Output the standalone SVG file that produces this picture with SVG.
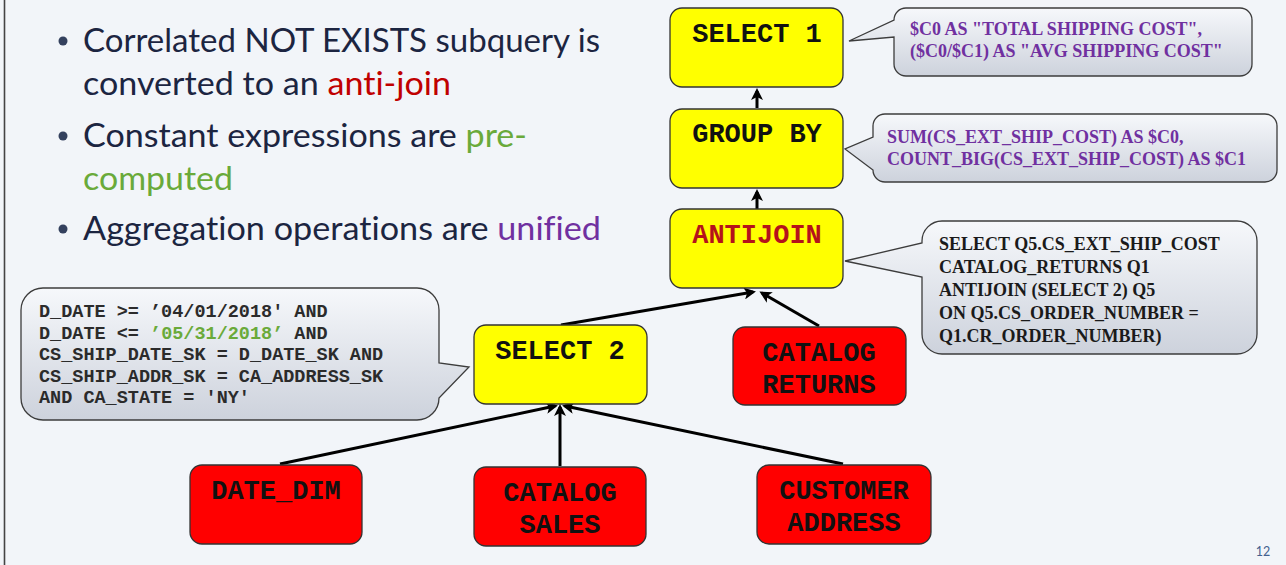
<svg xmlns="http://www.w3.org/2000/svg" width="1286" height="565" viewBox="0 0 1286 565">
<defs>
<linearGradient id="cg" x1="0" y1="0" x2="0" y2="1">
<stop offset="0" stop-color="#F6F8FB"/>
<stop offset="1" stop-color="#CDD2DC"/>
</linearGradient>
<marker id="ah" markerUnits="userSpaceOnUse" markerWidth="13" markerHeight="12" refX="9" refY="6" orient="auto">
<path d="M0,0 L12,6 L0,12 L3,6 Z" fill="#000"/>
</marker>
<style>
.bul{font-family:Lato,"Open Sans","Noto Sans",sans-serif;font-size:32px;fill:#1C2541;font-variant-ligatures:none;font-feature-settings:"liga" 0,"clig" 0}
.dot{fill:#34415E}
.ybox{fill:#FFFF00;stroke:#333;stroke-width:1.3}
.rbox{fill:#FF0000;stroke:#333;stroke-width:1.3}
.nl{font-family:"Liberation Mono","Courier New",monospace;font-weight:bold;font-size:27px;fill:#111;text-anchor:middle}
.call{fill:url(#cg);stroke:#3C3C3C;stroke-width:1.3}
.ct{font-family:"Liberation Serif","Times New Roman",serif;font-weight:bold;font-size:18px}
.cm{font-family:"Liberation Mono","Courier New",monospace;font-weight:bold;font-size:18.5px;fill:#2B2B2B}
.edge{stroke:#000;stroke-width:3;fill:none;marker-end:url(#ah)}
</style>
</defs>
<rect x="0" y="0" width="1286" height="565" fill="#F2F5F9"/>
<line x1="4.5" y1="0" x2="4.5" y2="565" stroke="#444" stroke-width="1.6"/>

<g id="bullets">
<circle class="dot" cx="63" cy="41" r="4.5"/>
<text class="bul" x="83" y="52" textLength="517" lengthAdjust="spacingAndGlyphs">Correlated NOT EXISTS subquery is</text>
<text class="bul" x="83" y="95" textLength="368" lengthAdjust="spacingAndGlyphs">converted to an <tspan fill="#C00000">anti-join</tspan></text>
<circle class="dot" cx="63" cy="136" r="4.5"/>
<text class="bul" x="83" y="147" textLength="444" lengthAdjust="spacingAndGlyphs">Constant expressions are <tspan fill="#6AAA3A">pre-</tspan></text>
<text class="bul" x="83" y="190" textLength="150" lengthAdjust="spacingAndGlyphs" style="fill:#6AAA3A">computed</text>
<circle class="dot" cx="63" cy="229" r="4.5"/>
<text class="bul" x="83" y="240" textLength="518" lengthAdjust="spacingAndGlyphs">Aggregation operations are <tspan fill="#7030A0">unified</tspan></text>
</g>

<g id="connectors">
<line class="edge" x1="757" y1="108" x2="757" y2="91"/>
<line class="edge" x1="757" y1="209" x2="757" y2="192"/>
<line class="edge" x1="561" y1="325" x2="753" y2="292"/>
<line class="edge" x1="819" y1="326" x2="762" y2="293"/>
<line class="edge" x1="280" y1="464" x2="555" y2="406"/>
<line class="edge" x1="560" y1="466" x2="560" y2="407"/>
<line class="edge" x1="843" y1="464" x2="565" y2="406"/>
</g>

<g id="select1">
<rect class="ybox" x="670" y="8" width="173" height="79" rx="12"/>
<text class="nl" x="757" y="42">SELECT 1</text>
</g>
<g id="callout-select1">
<path class="call" d="M906,8 H1240 A12 12 0 0 1 1252,20 V64 A12 12 0 0 1 1240,76 H906 A12 12 0 0 1 894,64 V37 L849,41 L894,20 A12 12 0 0 1 906,8 Z"/>
<text class="ct" fill="#7030A0" x="910" y="35">$C0 AS "TOTAL SHIPPING COST",</text>
<text class="ct" fill="#7030A0" x="910" y="57">($C0/$C1) AS "AVG SHIPPING COST"</text>
</g>

<g id="groupby">
<rect class="ybox" x="670" y="109" width="173" height="79" rx="12"/>
<text class="nl" x="757" y="142">GROUP BY</text>
</g>
<g id="callout-groupby">
<path class="call" d="M885,114 H1265 A12 12 0 0 1 1277,126 V170 A12 12 0 0 1 1265,182 H885 A12 12 0 0 1 873,170 L845,149 L873,137 V126 A12 12 0 0 1 885,114 Z"/>
<text class="ct" fill="#7030A0" x="887" y="143">SUM(CS_EXT_SHIP_COST) AS $C0,</text>
<text class="ct" fill="#7030A0" x="887" y="165">COUNT_BIG(CS_EXT_SHIP_COST) AS $C1</text>
</g>

<g id="antijoin">
<rect class="ybox" x="670" y="209" width="173" height="79" rx="12"/>
<text class="nl" x="757" y="243" style="fill:#B5121B">ANTIJOIN</text>
</g>
<g id="callout-antijoin">
<path class="call" d="M942,221 H1237 A20 20 0 0 1 1257,241 V334 A20 20 0 0 1 1237,354 H942 A20 20 0 0 1 922,334 V277 L845,261 L922,243 V241 A20 20 0 0 1 942,221 Z"/>
<text class="ct" fill="#1A1A1A" x="939" y="250">SELECT Q5.CS_EXT_SHIP_COST</text>
<text class="ct" fill="#1A1A1A" x="939" y="273">CATALOG_RETURNS Q1</text>
<text class="ct" fill="#1A1A1A" x="939" y="296">ANTIJOIN (SELECT 2) Q5</text>
<text class="ct" fill="#1A1A1A" x="939" y="319">ON Q5.CS_ORDER_NUMBER =</text>
<text class="ct" fill="#1A1A1A" x="939" y="342">Q1.CR_ORDER_NUMBER)</text>
</g>

<g id="select2">
<rect class="ybox" x="474" y="325" width="173" height="79" rx="12"/>
<text class="nl" x="560" y="359">SELECT 2</text>
</g>
<g id="callout-select2">
<path class="call" d="M43,288 H417 A22 22 0 0 1 439,310 V363 L469,367 L439,398 A22 22 0 0 1 417,420 H43 A22 22 0 0 1 21,398 V310 A22 22 0 0 1 43,288 Z"/>
<text class="cm" x="39" y="317">D_DATE &gt;= ’04/01/2018' AND</text>
<text class="cm" x="39" y="338.5">D_DATE &lt;= <tspan fill="#6AAA3A">’05/31/2018’</tspan> AND</text>
<text class="cm" x="39" y="360">CS_SHIP_DATE_SK = D_DATE_SK AND</text>
<text class="cm" x="39" y="381.5">CS_SHIP_ADDR_SK = CA_ADDRESS_SK</text>
<text class="cm" x="39" y="403">AND CA_STATE = 'NY'</text>
</g>

<g id="catalog-returns">
<rect class="rbox" x="733" y="327" width="173" height="78" rx="12"/>
<text class="nl" x="819" y="361">CATALOG</text>
<text class="nl" x="819" y="393">RETURNS</text>
</g>

<g id="date-dim">
<rect class="rbox" x="190" y="465" width="172" height="79" rx="12"/>
<text class="nl" x="276" y="499">DATE_DIM</text>
</g>

<g id="catalog-sales">
<rect class="rbox" x="474" y="467" width="172" height="79" rx="12"/>
<text class="nl" x="560" y="501">CATALOG</text>
<text class="nl" x="560" y="533">SALES</text>
</g>

<g id="customer-address">
<rect class="rbox" x="757" y="465" width="174" height="79" rx="12"/>
<text class="nl" x="844" y="499">CUSTOMER</text>
<text class="nl" x="844" y="531">ADDRESS</text>
</g>

<text x="1263" y="556" font-family="Lato,'Open Sans',sans-serif" font-size="12.5" fill="#44618F" text-anchor="middle">12</text>
</svg>
